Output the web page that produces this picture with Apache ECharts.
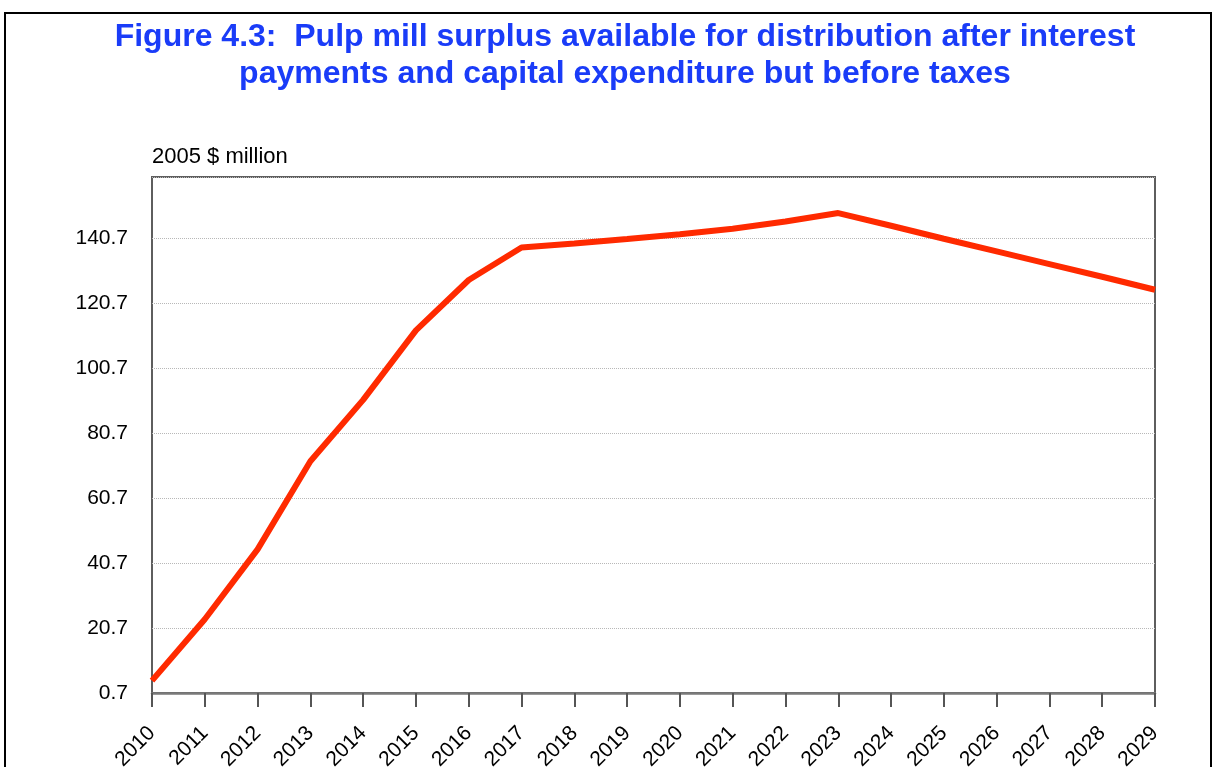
<!DOCTYPE html>
<html>
<head>
<meta charset="utf-8">
<script src="https://cdn.jsdelivr.net/npm/echarts@6/dist/echarts.min.js"></script>
<style>
  html, body { margin: 0; padding: 0; background: #fff; }
  #frame { position: absolute; left: 4px; top: 12px; width: 1208px; height: 800px; border: 2px solid #000; box-sizing: border-box; }
  #chart { position: absolute; left: 0; top: 0; width: 1216px; height: 767px; }
</style>
</head>
<body>
<div id="frame"></div>
<div id="chart"></div>
<script>
const titleLines = ['Figure 4.3:  Pulp mill surplus available for distribution after interest', 'payments and capital expenditure but before taxes'];
const unitLabel = '2005 $ million';
const years = ['2010','2011','2012','2013','2014','2015','2016','2017','2018','2019','2020','2021','2022','2023','2024','2025','2026','2027','2028','2029'];
const surplus = [4.5, 23.4, 44.9, 72.0, 90.9, 112.3, 127.8, 137.8, 139.0, 140.4, 141.9, 143.6, 145.8, 148.4, 144.5, 140.5, 136.6, 132.7, 128.8, 124.8];
const yMin = 0.7, yMax = 159.5, yStep = 20;

const FONT = 'Liberation Sans, Arial, sans-serif';
const chart = echarts.init(document.getElementById('chart'), null, { renderer: 'canvas' });
chart.setOption({
  backgroundColor: 'transparent',
  animation: false,
  title: {
    text: titleLines.join('\n'),
    left: 620, top: 14, textAlign: 'center',
    textStyle: { color: '#1a3cf8', fontFamily: FONT, fontWeight: 'bold', fontSize: 32, lineHeight: 37 }
  },
  grid: { left: 152, right: 61, top: 177, bottom: 74, containLabel: false, outerBoundsMode: 'none', show: true, borderColor: '#5e5e5e', borderWidth: 2, backgroundColor: 'transparent' },
  xAxis: {
    type: 'category', data: years, boundaryGap: false,
    axisLine: { lineStyle: { color: '#7a7a7a', width: 2.5 } },
    axisTick: { show: true, length: 14, lineStyle: { color: '#555', width: 2 } },
    axisLabel: { rotate: 45, color: '#000', fontFamily: FONT, fontSize: 21, margin: 37, interval: 0 },
    splitLine: { show: false }
  },
  yAxis: {
    type: 'value', min: yMin, max: yMax, interval: yStep,
    name: unitLabel, nameLocation: 'end', nameGap: 9,
    nameTextStyle: { color: '#000', fontFamily: FONT, fontSize: 22, align: 'left' },
    axisLine: { show: false },
    axisTick: { show: false },
    axisLabel: { color: '#000', fontFamily: FONT, fontSize: 21, margin: 24, showMaxLabel: false, formatter: v => v.toFixed(1) },
    splitLine: { show: true, lineStyle: { color: '#b8b8b8', type: 'dotted', width: 1 } }
  },
  series: [{
    type: 'line', data: surplus, symbol: 'none',
    lineStyle: { color: '#ff2a00', width: 6 }
  }]
});
</script>
</body>
</html>
